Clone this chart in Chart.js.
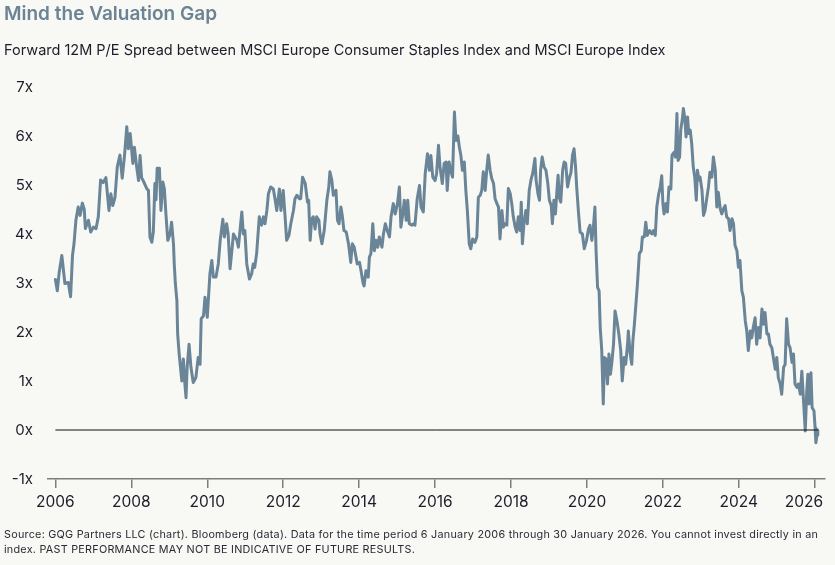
<!DOCTYPE html>
<html>
<head>
<meta charset="utf-8">
<script src="https://cdn.jsdelivr.net/npm/chart.js@4.4.1/dist/chart.umd.min.js"></script>
<style>
  html,body{margin:0;padding:0;background:#f8f8f4;}
  #wrap{position:relative;width:835px;height:565px;overflow:hidden;background:#f8f8f4;font-family:Inter,Lato,sans-serif;}
  #title{position:absolute;left:4px;top:2px;font-size:19px;font-weight:600;color:#6b8394;white-space:nowrap;}
  #subtitle{position:absolute;left:4px;top:41px;font-size:14.5px;color:#1d1d2b;white-space:nowrap;}
  #footer{position:absolute;left:4px;top:528px;font-size:10.8px;letter-spacing:0.25px;line-height:14.5px;color:#2a2a35;white-space:nowrap;}
  #cv{position:absolute;left:0;top:0;}
</style>
</head>
<body>
<div id="wrap">
  <canvas id="cv" width="835" height="565"></canvas>
  <div id="title">Mind the Valuation Gap</div>
  <div id="subtitle">Forward 12M P/E Spread between MSCI Europe Consumer Staples Index and MSCI Europe Index</div>
  <div id="footer">Source: GQG Partners LLC (chart). Bloomberg (data). Data for the time period 6 January 2006 through 30 January 2026. You cannot invest directly in an<br>index. PAST PERFORMANCE MAY NOT BE INDICATIVE OF FUTURE RESULTS.</div>
</div>
<script>
// Dates as decimal years
const dates = [
2006.00,2006.05,2006.10,2006.17,2006.25,2006.34,2006.40,2006.45,2006.49,2006.54,2006.60,2006.65,2006.71,2006.76,2006.79,2006.87,2006.93,
2007.00,2007.07,2007.13,2007.19,2007.26,2007.33,2007.41,2007.46,2007.51,2007.57,2007.63,2007.70,2007.76,2007.82,2007.88,2007.92,2007.97,
2008.04,2008.08,2008.14,2008.19,2008.23,2008.27,2008.33,2008.41,2008.45,2008.49,2008.54,2008.58,2008.62,2008.65,2008.68,2008.74,2008.78,2008.83,2008.87,2008.91,2008.96,
2009.02,2009.06,2009.11,2009.13,2009.16,2009.20,2009.22,2009.26,2009.33,2009.37,2009.41,2009.44,2009.47,2009.52,2009.57,2009.63,2009.70,2009.76,2009.81,2009.84,2009.90,2009.94,
2010.00,2010.07,2010.12,2010.16,2010.23,2010.29,2010.34,2010.41,2010.45,2010.51,2010.55,2010.60,2010.69,2010.78,2010.82,2010.91,2010.95,2010.99,
2011.04,2011.11,2011.17,2011.21,2011.25,2011.30,2011.37,2011.43,2011.48,2011.52,2011.57,2011.61,2011.67,2011.74,2011.79,2011.83,2011.90,2011.94,
2012.00,2012.05,2012.09,2012.15,2012.20,2012.27,2012.31,2012.36,2012.43,2012.46,2012.51,2012.58,2012.64,2012.67,2012.71,2012.75,2012.79,2012.84,2012.88,2012.94,2012.97,
2013.02,2013.08,2013.15,2013.20,2013.23,2013.28,2013.32,2013.39,2013.43,2013.47,2013.52,2013.56,2013.60,2013.66,2013.72,2013.78,2013.82,2013.87,2013.91,2013.95,
2014.01,2014.05,2014.10,2014.13,2014.18,2014.24,2014.27,2014.31,2014.36,2014.40,2014.45,2014.49,2014.53,2014.60,2014.64,2014.69,2014.74,2014.80,2014.84,2014.90,2014.95,
2015.01,2015.06,2015.10,2015.15,2015.19,2015.24,2015.28,2015.32,2015.39,2015.43,2015.47,2015.53,2015.59,2015.63,2015.69,2015.74,2015.80,2015.85,2015.89,2015.94,
2016.00,2016.04,2016.09,2016.13,2016.19,2016.24,2016.29,2016.32,2016.37,2016.41,2016.46,2016.51,2016.55,2016.60,2016.64,2016.68,2016.72,2016.77,2016.81,2016.85,2016.90,2016.94,2016.99,
2017.05,2017.10,2017.14,2017.19,2017.23,2017.27,2017.32,2017.36,2017.40,2017.45,2017.49,2017.54,2017.58,2017.63,2017.67,2017.71,2017.76,2017.80,2017.84,2017.89,2017.93,2017.98,
2018.02,2018.06,2018.11,2018.15,2018.19,2018.24,2018.27,2018.30,2018.34,2018.39,2018.43,2018.48,2018.53,2018.57,2018.63,2018.66,2018.71,2018.75,2018.78,2018.82,2018.87,2018.92,2018.97,
2019.01,2019.06,2019.09,2019.13,2019.17,2019.21,2019.24,2019.27,2019.31,2019.36,2019.40,2019.44,2019.49,2019.53,2019.58,2019.62,2019.66,2019.70,2019.73,2019.78,2019.82,2019.88,2019.93,2019.99,
2020.04,2020.08,2020.13,2020.17,2020.21,2020.24,2020.28,2020.32,2020.35,2020.39,2020.43,2020.46,2020.50,2020.54,2020.58,2020.62,2020.66,2020.70,2020.74,2020.79,2020.84,2020.89,2020.93,2020.98,
2021.02,2021.07,2021.09,2021.14,2021.18,2021.21,2021.25,2021.29,2021.33,2021.38,2021.43,2021.46,2021.51,2021.55,2021.59,2021.65,2021.71,2021.75,2021.80,2021.84,2021.89,2021.93,2021.97,
2022.00,2022.03,2022.08,2022.12,2022.16,2022.21,2022.24,2022.30,2022.33,2022.37,2022.40,2022.44,2022.47,2022.51,2022.54,2022.58,2022.61,2022.65,2022.68,2022.72,2022.76,2022.80,2022.84,2022.88,2022.91,2022.95,2022.98,
2023.03,2023.07,2023.11,2023.16,2023.20,2023.24,2023.29,2023.33,2023.38,2023.42,2023.46,2023.51,2023.55,2023.60,2023.64,2023.68,2023.73,2023.77,2023.82,2023.86,2023.90,2023.95,2023.99,
2024.03,2024.08,2024.12,2024.17,2024.21,2024.25,2024.30,2024.34,2024.38,2024.43,2024.47,2024.52,2024.56,2024.61,2024.65,2024.69,2024.74,2024.78,2024.82,2024.87,2024.91,2024.96,
2025.00,2025.04,2025.09,2025.13,2025.18,2025.22,2025.26,2025.31,2025.35,2025.40,2025.44,2025.48,2025.53,2025.57,2025.62,2025.66,2025.70,2025.75,2025.79,2025.82,2025.85,2025.90,2025.93,2025.98,
2026.01,2026.03,2026.06,2026.08
];
// Forward 12M P/E spread (x)
const spread = [
3.07,2.84,3.22,3.56,2.99,3.01,2.72,3.56,3.80,4.28,4.55,4.38,4.63,4.50,4.11,4.28,4.04,
4.14,4.11,4.35,5.10,5.05,5.15,4.48,4.82,4.58,4.75,5.37,5.61,5.14,5.60,6.19,5.74,6.05,
5.44,5.77,5.37,5.09,5.60,5.15,5.06,4.92,4.89,3.94,3.83,4.05,5.03,4.70,5.34,5.34,4.48,5.06,4.92,4.42,3.87,
4.00,4.24,3.80,3.39,2.98,2.64,1.96,1.55,1.00,1.45,0.94,0.66,1.28,1.75,1.28,0.97,1.07,1.48,1.34,2.27,2.33,2.71,
2.30,3.19,3.46,3.12,3.12,3.39,3.87,4.30,3.94,4.21,4.00,3.29,4.00,3.87,3.73,4.45,4.00,4.07,
3.39,3.08,3.19,3.39,3.32,3.60,4.35,4.18,4.35,4.21,4.48,4.82,4.96,4.92,4.69,4.48,4.92,4.48,
4.89,4.35,3.87,3.97,4.21,4.48,4.72,4.79,4.72,4.72,5.16,5.03,4.65,4.69,3.87,4.30,4.35,4.10,4.35,4.28,4.00,
3.80,4.07,4.69,4.96,5.27,5.10,4.79,4.89,4.28,4.21,4.55,4.35,4.07,4.04,3.80,3.42,3.80,3.73,3.56,3.39,
3.42,3.25,3.01,2.94,3.25,3.12,3.53,3.60,4.21,3.66,3.87,3.73,3.94,3.73,4.00,4.21,4.07,3.94,4.35,4.62,4.41,
4.62,4.96,4.14,4.41,4.69,4.28,4.69,4.21,4.18,4.21,4.18,4.72,4.99,4.55,4.45,5.23,5.64,5.30,5.60,5.16,
5.09,5.23,5.81,5.37,5.03,5.44,5.47,4.89,5.47,5.30,5.16,6.49,5.91,6.00,5.77,5.60,5.30,5.47,4.89,4.48,3.80,3.70,3.90,
3.83,3.94,4.75,4.79,4.89,5.27,4.89,5.30,5.61,5.30,5.14,5.03,4.72,4.62,4.55,3.90,4.48,4.14,4.21,4.18,4.93,4.82,
4.62,4.35,4.14,4.04,4.35,4.07,4.65,3.80,4.21,4.48,4.21,4.89,5.12,5.23,5.54,5.10,4.82,4.69,5.30,5.57,5.37,5.30,5.03,
4.69,4.58,4.21,4.69,4.41,4.89,5.20,4.75,4.65,5.30,5.47,5.44,4.96,5.12,5.26,5.61,5.74,5.37,4.96,4.41,4.04,4.00,3.70,3.87,
4.10,4.18,3.87,4.14,4.55,3.66,2.91,2.84,2.09,1.62,0.53,1.48,1.45,0.94,1.55,1.14,1.41,1.75,2.43,2.23,1.96,1.62,1.00,1.48,
1.34,1.75,2.02,1.55,1.34,1.82,2.16,2.57,2.98,3.60,3.66,3.94,3.94,4.24,3.97,4.07,4.00,4.07,3.97,4.55,4.82,4.96,5.19,
4.62,4.41,4.62,4.45,4.96,4.92,5.61,5.67,5.57,6.46,5.50,5.57,6.12,6.33,6.56,6.35,5.98,6.39,6.05,6.12,5.84,5.37,5.16,4.69,5.30,5.10,5.16,
4.89,4.38,4.48,4.75,4.96,5.26,5.16,5.57,5.30,4.55,4.85,4.52,4.41,4.52,4.58,4.35,4.31,4.07,4.31,4.21,3.77,3.66,3.32,
3.46,2.84,2.71,2.23,2.02,1.62,2.02,1.88,2.09,2.29,1.75,2.09,1.88,2.47,2.16,2.40,1.96,1.96,1.75,1.68,1.48,1.24,
1.48,1.07,0.94,0.73,1.28,1.34,2.27,1.75,1.68,1.38,1.55,0.94,0.87,0.94,0.73,1.20,0.66,-0.02,0.80,1.14,0.53,1.17,0.46,0.39,
0.04,-0.26,-0.10,0.00
];
const yearTicks = [2006,2008,2010,2012,2014,2016,2018,2020,2022,2024,2026];
const yTickValues = [-1,0,1,2,3,4,5,6,7];

const seriesPoints = dates.map((d,i)=>({x:d, y:spread[i]}));
const zeroLine = [{x:dates[0], y:0},{x:dates[dates.length-1], y:0}];

new Chart(document.getElementById('cv'), {
  type:'line',
  data:{
    datasets:[
      {data:zeroLine, borderColor:'#111', borderWidth:1, pointRadius:0, tension:0},
      {data:seriesPoints, borderColor:'#6a8597', borderWidth:3, pointRadius:0, tension:0,
       borderJoinStyle:'round', borderCapStyle:'round'}
    ]
  },
  options:{
    responsive:false,
    animation:false,
    devicePixelRatio:1,
    layout:{padding:{top:87,right:10,bottom:46,left:0}},
    plugins:{legend:{display:false},tooltip:{enabled:false},title:{display:false}},
    scales:{
      x:{
        type:'linear', min:2005.805, max:2026.27,
        afterBuildTicks:(s)=>{ s.ticks = yearTicks.map(v=>({value:v})); },
        afterFit:(s)=>{ s.height = 40; s.paddingLeft = 0; s.paddingRight = 0; },
        grid:{drawOnChartArea:false, drawTicks:true, tickLength:9, color:'#7d7d7d', lineWidth:1.5},
        border:{display:true, color:'#7d7d7d', width:1.5},
        ticks:{autoSkip:false, maxRotation:0, padding:5, color:'#1d1d2b', font:{family:'Inter', size:15.5},
               callback:(v)=> v === yearTicks[yearTicks.length-1] ? String(v) + '     ' : String(v)}
      },
      y:{
        min:-1, max:7,
        afterBuildTicks:(s)=>{ s.ticks = yTickValues.map(v=>({value:v})); },
        afterFit:(s)=>{ s.width = 48; s.paddingTop = 0; s.paddingBottom = 0; },
        grid:{display:false, drawTicks:false},
        border:{display:false},
        ticks:{padding:15, color:'#1d1d2b', font:{family:'Inter', size:15}, callback:(v)=>v+'x'}
      }
    }
  }
});
</script>
</body>
</html>
